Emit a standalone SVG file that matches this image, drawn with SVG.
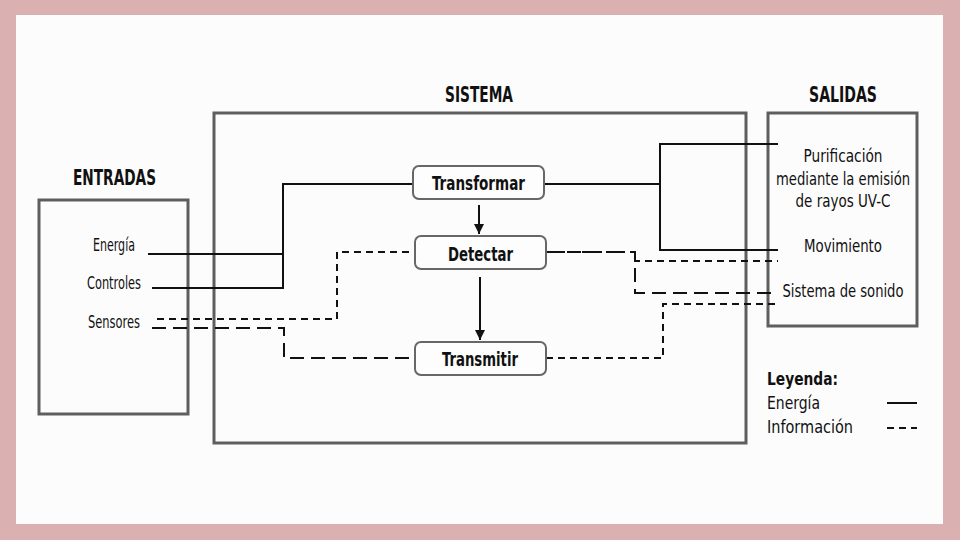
<svg xmlns="http://www.w3.org/2000/svg" width="960" height="540" viewBox="0 0 960 540">
<style>
text{font-family:"DejaVu Sans Condensed","Liberation Sans Narrow","DejaVu Sans","Liberation Sans",sans-serif;fill:#111;}
.title{font-size:21.5px;font-weight:bold;text-anchor:middle;}
.lbl{font-size:17.5px;text-anchor:middle;}
.node{font-size:19.5px;font-weight:bold;text-anchor:middle;}
.leg{font-size:17px;}
.frame{fill:none;stroke:#5e5e5e;stroke-width:3;}
.nbox{fill:#fdfdfd;stroke:#676767;stroke-width:2;}
.en{fill:none;stroke:#111;stroke-width:2;}
.info{fill:none;stroke:#111;stroke-width:2;stroke-dasharray:7 5;}
.infol{fill:none;stroke:#111;stroke-width:2;stroke-dasharray:14 7;}
</style>
<defs>
<marker id="ah" viewBox="0 0 10 10" refX="10" refY="5" markerWidth="5.5" markerHeight="5" orient="auto" markerUnits="strokeWidth">
<path d="M0,0 L10,5 L0,10 Z" fill="#111"/>
</marker>
</defs>
<rect x="0" y="0" width="960" height="540" fill="#dbb0b0"/>
<rect x="16" y="15" width="927" height="509" fill="#fcfcfc"/>

<g id="entradas">
<rect class="frame" x="39" y="200" width="149" height="214"/>
<text class="title" x="114.5" y="185" textLength="83" lengthAdjust="spacingAndGlyphs">ENTRADAS</text>
<text class="lbl" x="114" y="251" textLength="42" lengthAdjust="spacingAndGlyphs">Energía</text>
<text class="lbl" x="114" y="289" textLength="54" lengthAdjust="spacingAndGlyphs">Controles</text>
<text class="lbl" x="114" y="328" textLength="52" lengthAdjust="spacingAndGlyphs">Sensores</text>
</g>

<g id="sistema">
<rect class="frame" x="214" y="113" width="532" height="330"/>
<text class="title" x="479" y="102" textLength="68" lengthAdjust="spacingAndGlyphs">SISTEMA</text>
</g>

<g id="salidas">
<rect class="frame" x="768" y="113" width="149" height="213"/>
<text class="title" x="843" y="102" textLength="68" lengthAdjust="spacingAndGlyphs">SALIDAS</text>
<text class="lbl" x="843" y="162" textLength="79" lengthAdjust="spacingAndGlyphs">Purificación</text>
<text class="lbl" x="843" y="185" textLength="134" lengthAdjust="spacingAndGlyphs">mediante la emisión</text>
<text class="lbl" x="843" y="207" textLength="95" lengthAdjust="spacingAndGlyphs">de rayos UV-C</text>
<text class="lbl" x="843" y="252" textLength="78" lengthAdjust="spacingAndGlyphs">Movimiento</text>
<text class="lbl" x="843" y="297" textLength="121" lengthAdjust="spacingAndGlyphs">Sistema de sonido</text>
</g>

<g id="connectors">
<path class="en" d="M148 254 H283"/>
<path class="en" d="M152 288 H283 V184 H413"/>
<path class="en" d="M544 184 H660"/>
<path class="en" d="M778 144 H660 V250 H778"/>
<path class="en" d="M479 205 V234" marker-end="url(#ah)"/>
<path class="en" d="M480 277 V340" marker-end="url(#ah)"/>
<path class="info" d="M157 319 H337 V252 H415"/>
<path class="infol" d="M152 328 H284 V358 H415"/>
<path class="info" d="M546 252 H635 V261 H778"/>
<path class="infol" d="M546 252 H635 V293 H778"/>
<path class="info" d="M546 358 H663 V304 H778"/>
</g>

<g id="transformar">
<rect class="nbox" x="413" y="166" width="131" height="33" rx="6"/>
<text class="node" x="478.5" y="190" textLength="93" lengthAdjust="spacingAndGlyphs">Transformar</text>
</g>
<g id="detectar">
<rect class="nbox" x="415" y="236" width="131" height="33" rx="6"/>
<text class="node" x="480.5" y="261" textLength="65" lengthAdjust="spacingAndGlyphs">Detectar</text>
</g>
<g id="transmitir">
<rect class="nbox" x="415" y="342" width="131" height="33" rx="6"/>
<text class="node" x="480" y="366" textLength="76" lengthAdjust="spacingAndGlyphs">Transmitir</text>
</g>

<g id="leyenda">
<text class="leg" x="767" y="385" font-weight="bold" textLength="71" lengthAdjust="spacingAndGlyphs">Leyenda:</text>
<text class="leg" x="767" y="409" textLength="53" lengthAdjust="spacingAndGlyphs">Energía</text>
<text class="leg" x="767" y="433" textLength="86" lengthAdjust="spacingAndGlyphs">Información</text>
<path class="en" d="M887 403 H917"/>
<path fill="none" stroke="#111" stroke-width="2" stroke-dasharray="7 5" d="M887 428 H917"/>
</g>
</svg>
